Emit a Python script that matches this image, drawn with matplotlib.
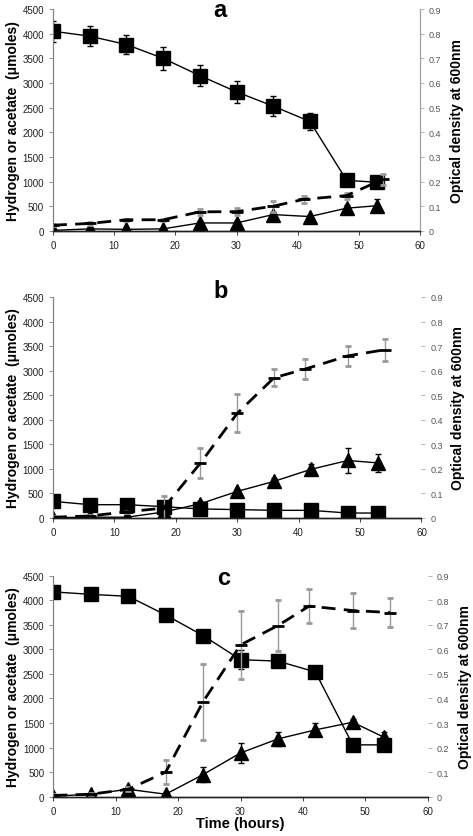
import numpy as np
import matplotlib.pyplot as plt

plt.rcParams['font.family'] = ['Liberation Sans', 'DejaVu Sans']

# sampling times (hours)
t_gas = [0, 6, 12, 18, 24, 30, 36, 42, 48, 53]
t_od = [0, 6, 12, 18, 24, 30, 36, 41, 48, 54]

# panel a
a_h2 = [4050, 3950, 3780, 3500, 3150, 2820, 2530, 2220, 1025, 985]
a_h2_err = [210, 200, 200, 240, 220, 220, 200, 180, 50, 50]
a_ac = [10, 40, 30, 40, 160, 160, 330, 290, 460, 510]
a_ac_err = [20, 20, 20, 20, 40, 40, 60, 40, 60, 130]
a_od = [0.023, 0.03, 0.045, 0.045, 0.077, 0.078, 0.10, 0.128, 0.143, 0.21]
a_od_err = [0.005, 0.005, 0.005, 0.005, 0.012, 0.013, 0.022, 0.015, 0.012, 0.022]

# panel b
b_h2 = [338, 270, 270, 230, 183, 170, 155, 155, 100, 100]
b_h2_err = [30, 20, 20, 20, 20, 20, 20, 20, 15, 15]
b_ac = [5, 15, 15, 120, 290, 540, 745, 990, 1170, 1120]
b_ac_err = [10, 10, 10, 30, 60, 50, 60, 100, 250, 190]
b_od = [0.003, 0.008, 0.025, 0.04, 0.223, 0.426, 0.571, 0.606, 0.66, 0.685]
b_od_err = [0.003, 0.004, 0.005, 0.05, 0.062, 0.078, 0.034, 0.04, 0.04, 0.044]

# panel c
c_h2 = [4170, 4120, 4080, 3700, 3280, 2790, 2760, 2540, 1055, 1055]
c_h2_err = [40, 40, 40, 40, 50, 200, 40, 40, 40, 40]
c_ac = [10, 50, 150, 50, 450, 890, 1176, 1360, 1516, 1210]
c_ac_err = [20, 30, 40, 30, 150, 200, 150, 130, 70, 100]
c_od = [0.005, 0.01, 0.03, 0.10, 0.387, 0.618, 0.697, 0.776, 0.758, 0.75]
c_od_err = [0.004, 0.005, 0.008, 0.05, 0.155, 0.14, 0.105, 0.07, 0.07, 0.06]

panels = [
    ('a', a_h2, a_h2_err, a_ac, a_ac_err, a_od, a_od_err, [0.112, 0.723, 0.776, 0.265], 0.968),
    ('b', b_h2, b_h2_err, b_ac, b_ac_err, b_od, b_od_err, [0.112, 0.380, 0.779, 0.264], 1.0),
    ('c', c_h2, c_h2_err, c_ac, c_ac_err, c_od, c_od_err, [0.113, 0.047, 0.791, 0.264], 0.964),
]

fig = plt.figure(figsize=(4.73, 8.37), dpi=100)
spine_col = '#808080'

for i, (lab, h2, h2e, ac, ace, od, ode, rect, lab_y) in enumerate(panels):
    ax = fig.add_axes(rect)
    ax2 = ax.twinx()

    ax.errorbar(t_gas, h2, yerr=h2e, color='black', lw=1, marker='s', ms=10,
                ecolor='black', elinewidth=1, capsize=2.5, zorder=3)
    ax.errorbar(t_gas, ac, yerr=ace, color='black', lw=1, marker='^', ms=9.5,
                ecolor='black', elinewidth=1, capsize=2.5, zorder=3)
    ax2.errorbar(t_od, od, yerr=ode, color='black', lw=2, marker='_', ms=9, mew=2,
                 ecolor='#999999', elinewidth=1, capsize=2.5, dashes=(5, 3))

    ax.set_xlim(0, 60)
    ax.set_ylim(0, 4500)
    ax2.set_ylim(0, 0.9)
    ax.set_xticks(np.arange(0, 61, 10))
    ax.set_yticks(np.arange(0, 4501, 500))
    ax2.set_yticks(np.round(np.arange(0, 0.91, 0.1), 1))
    ax2.set_yticklabels(['0'] + [f'{v:.1f}' for v in np.arange(0.1, 0.91, 0.1)])

    for a in (ax, ax2):
        a.spines['top'].set_visible(False)
        a.spines['left'].set_color(spine_col)
        a.spines['right'].set_color('#a0a0a0')
        a.spines['right'].set_visible(i == 0)
        a.spines['bottom'].set_color('#222222')
        a.spines['bottom'].set_linewidth(1.0)
    ax.tick_params(axis='y', labelsize=7, colors='#222222', length=3, width=0.6, color=spine_col)
    ax.tick_params(axis='x', labelsize=7, colors='#222222', length=3, width=0.6, color='#222222')
    ax2.tick_params(axis='y', labelsize=6.5, colors='#555555', length=3, width=0.6, color='#aaaaaa')

    ax.set_ylabel('Hydrogen or acetate  (\u03bcmoles)', fontsize=10, fontweight='bold', labelpad=2)
    ax2.set_ylabel('Optical density at 600nm', fontsize=10, fontweight='bold', labelpad=6)
    ax.text(0.455, lab_y, lab, transform=ax.transAxes, ha='center', va='baseline',
            fontsize=17, fontweight='bold')
    if i == 2:
        ax.set_xlabel('Time (hours)', fontsize=10.5, fontweight='bold', labelpad=0)

fig.savefig('out.png', dpi=100)
